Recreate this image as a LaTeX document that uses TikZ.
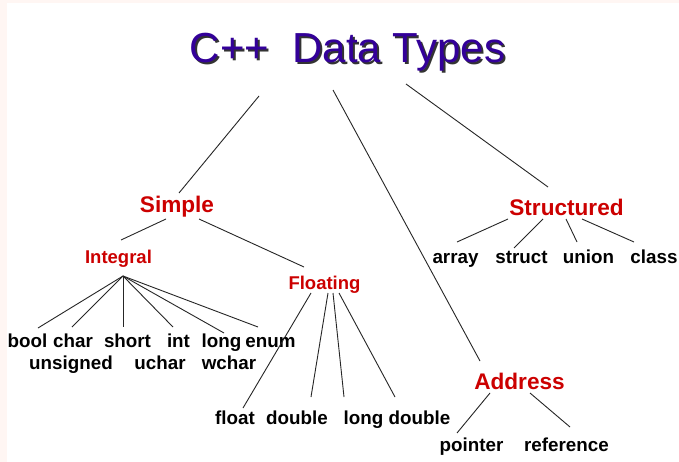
\documentclass[tikz,border=0pt]{standalone}
\usepackage{fontspec}
\setmainfont{Liberation Sans}
\definecolor{titleblue}{HTML}{330099}
\definecolor{catred}{HTML}{CC0000}
\definecolor{edgepink}{HTML}{FFF6F3}
\newcommand{\shadowed}[1]{\rlap{\hspace{2pt}\raisebox{-2pt}{\textcolor{black!80}{#1}}}\textcolor{titleblue}{#1}}
\tikzset{
  lbl/.style={inner sep=0pt, anchor=base},
  bigcat/.style={lbl, text=catred, font=\fontsize{22.6}{27}\selectfont\bfseries},
  subcat/.style={lbl, text=catred, font=\fontsize{18.5}{22}\selectfont\bfseries},
  leaf/.style={lbl, text=black, font=\fontsize{18.8}{22}\selectfont\bfseries},
  branch/.style={draw=black!85, line width=0.9pt},
}
\begin{document}
\begin{tikzpicture}[x=1pt,y=-1pt]
  % page with a faint tinted edge
  \fill[edgepink] (0,0) rectangle (679,462);
  \fill[white] (7,3) rectangle (679,462);
  \useasboundingbox (0,0) rectangle (679,462);

  % title with drop shadow
  \node[lbl, font=\fontsize{42}{50}\selectfont] (title) at (347.5,63) {\shadowed{C++\ \ Data Types}};

  % categories
  \node[bigcat] (simple) at (177,213) {Simple};
  \node[bigcat] (structured) at (566.5,215) {Structured};
  \node[bigcat] (address) at (519.5,389) {Address};
  \node[subcat] (integral) at (118.5,263) {Integral};
  \node[subcat] (floating) at (324.5,289) {Floating};

  % integral types
  \node[leaf] (bool) at (27.5,347) {bool};
  \node[leaf] (char) at (73,347) {char};
  \node[leaf] (short) at (127.5,347) {short};
  \node[leaf] (int) at (178.5,347) {int};
  \node[leaf] (long) at (221.5,347) {long};
  \node[leaf] (enum) at (270.5,347) {enum};
  \node[leaf] (unsigned) at (71,369) {unsigned};
  \node[leaf] (uchar) at (160,369) {uchar};
  \node[leaf] (wchar) at (229,369) {wchar};

  % floating types
  \node[leaf] (float) at (235,424) {float};
  \node[leaf] (double) at (297,424) {double};
  \node[leaf] (longdouble) at (397,424) {long double};

  % address types
  \node[leaf] (pointer) at (471.5,451) {pointer};
  \node[leaf] (reference) at (566.5,451) {reference};

  % structured types
  \node[leaf] (array) at (455.5,263) {array};
  \node[leaf] (struct) at (521.5,263) {struct};
  \node[leaf] (union) at (588.5,263) {union};
  \node[leaf] (class) at (654,263) {class};

  % connector end points
  \coordinate (title-l) at (259,96);
  \coordinate (title-m) at (333,90);
  \coordinate (title-r) at (406,84);
  \coordinate (simple-top) at (179,193);
  \coordinate (address-top) at (480,361);
  \coordinate (structured-top) at (548,187);
  \coordinate (simple-l) at (166,219);
  \coordinate (simple-r) at (199,219);
  \coordinate (integral-top) at (121,240);
  \coordinate (floating-top) at (304,267);
  \coordinate (integral-fan) at (123,276);
  \coordinate (bool-top) at (38,328);
  \coordinate (char-top) at (72,327);
  \coordinate (short-top) at (123,327);
  \coordinate (int-top) at (173,327);
  \coordinate (long-top) at (224,333);
  \coordinate (enum-top) at (258,327);
  \coordinate (floating-a) at (311,293);
  \coordinate (floating-b) at (328,293);
  \coordinate (floating-c) at (333,293);
  \coordinate (floating-d) at (339,293);
  \coordinate (float-top) at (243,408);
  \coordinate (double-top) at (311,397);
  \coordinate (longdouble-a) at (344,397);
  \coordinate (longdouble-b) at (395,397);
  \coordinate (address-l) at (490,393);
  \coordinate (address-r) at (530,393);
  \coordinate (pointer-top) at (457,433);
  \coordinate (reference-top) at (570,427);
  \coordinate (structured-a) at (508,219);
  \coordinate (structured-b) at (543,219);
  \coordinate (structured-c) at (566,219);
  \coordinate (structured-d) at (582,219);
  \coordinate (array-top) at (457,242);
  \coordinate (struct-top) at (514,248);
  \coordinate (union-top) at (577,242);
  \coordinate (class-top) at (634,242);

  % branches
  \draw[branch] (title-l) -- (simple-top);
  \draw[branch] (title-m) -- (address-top);
  \draw[branch] (title-r) -- (structured-top);
  \draw[branch] (simple-l) -- (integral-top);
  \draw[branch] (simple-r) -- (floating-top);
  \foreach \t in {bool,char,short,int,long,enum}
    \draw[branch] (integral-fan) -- (\t-top);
  \draw[branch] (floating-a) -- (float-top);
  \draw[branch] (floating-b) -- (double-top);
  \draw[branch] (floating-c) -- (longdouble-a);
  \draw[branch] (floating-d) -- (longdouble-b);
  \draw[branch] (address-l) -- (pointer-top);
  \draw[branch] (address-r) -- (reference-top);
  \draw[branch] (structured-a) -- (array-top);
  \draw[branch] (structured-b) -- (struct-top);
  \draw[branch] (structured-c) -- (union-top);
  \draw[branch] (structured-d) -- (class-top);
\end{tikzpicture}
\end{document}
